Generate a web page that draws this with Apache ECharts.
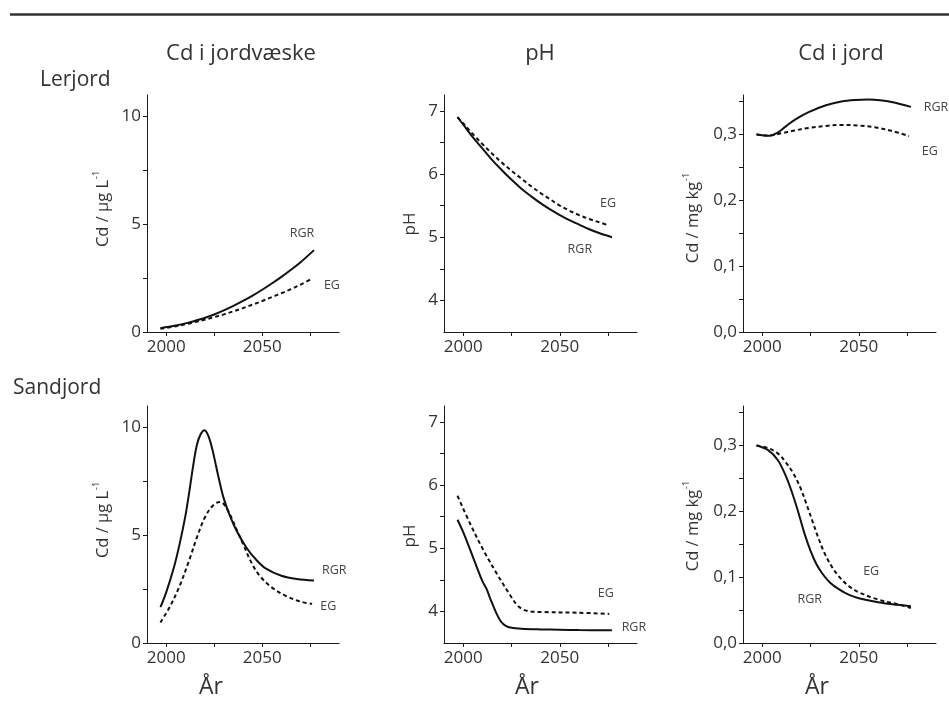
<!DOCTYPE html>
<html>
<head>
<meta charset="utf-8">
<script src="https://cdn.jsdelivr.net/npm/echarts@6/dist/echarts.min.js"></script>
<style>
html,body{margin:0;padding:0;background:#fff;}
#c{width:949px;height:702px;}
</style>
</head>
<body>
<div id="c"></div>
<script>
// ---------- DATA ----------
const columnTitles = ['Cd i jordvæske', 'pH', 'Cd i jord'];
const rowTitles = ['Lerjord', 'Sandjord'];
const xTickValues = [2000, 2025, 2050, 2075];
const xLabelValues = [2000, 2050];
const cdSolTicks = [0, 2.5, 5, 7.5, 10];
const cdSolLabels = [0, 5, 10];
const phTicks = [4, 4.5, 5, 5.5, 6, 6.5, 7];
const phLabels = [4, 5, 6, 7];
const cdSoilTicks = [0, 0.05, 0.1, 0.15, 0.2, 0.25, 0.3, 0.35];
const cdSoilLabels = [0, 0.1, 0.2, 0.3];

// Lerjord – Cd i jordvæske
const clayCdSolRGR_x = [1997,2005,2010,2015,2020,2025,2030,2035,2040,2045,2050,2055,2060,2065,2070,2077];
const clayCdSolRGR_y = [0.18,0.3,0.4,0.52,0.65,0.81,1.0,1.21,1.44,1.69,1.96,2.25,2.56,2.89,3.24,3.8];
const clayCdSolEG_x  = [1997,2005,2010,2015,2020,2025,2030,2035,2040,2045,2050,2055,2060,2065,2070,2076];
const clayCdSolEG_y  = [0.15,0.27,0.36,0.46,0.57,0.69,0.82,0.96,1.11,1.27,1.44,1.62,1.8,1.99,2.2,2.48];
// Lerjord – pH
const clayPhRGR_x = [1997,2000,2005,2010,2015,2020,2025,2030,2035,2040,2045,2050,2055,2060,2065,2070,2077];
const clayPhRGR_y = [6.9,6.78,6.58,6.4,6.22,6.06,5.91,5.77,5.65,5.54,5.44,5.35,5.27,5.2,5.13,5.07,5.0];
const clayPhEG_x  = [1997,2000,2005,2010,2015,2020,2025,2030,2035,2040,2045,2050,2055,2060,2065,2070,2075];
const clayPhEG_y  = [6.9,6.8,6.63,6.47,6.32,6.18,6.05,5.93,5.81,5.7,5.6,5.5,5.42,5.35,5.29,5.24,5.19];
// Lerjord – Cd i jord
const clayCdSoilRGR_x = [1997,2000,2004,2008,2012,2017,2024,2033,2041,2048,2055,2061,2067,2077];
const clayCdSoilRGR_y = [0.3,0.299,0.298,0.303,0.312,0.3227,0.334,0.3444,0.3502,0.3525,0.3532,0.3522,0.3495,0.342];
const clayCdSoilEG_x  = [1997,2001,2005,2010,2016,2024,2033,2041,2050,2059,2067,2076];
const clayCdSoilEG_y  = [0.3005,0.2985,0.299,0.302,0.3056,0.31,0.313,0.3146,0.3136,0.3106,0.3056,0.2975];
// Sandjord – Cd i jordvæske
const sandCdSolRGR_x = [1997,2000,2004,2007,2010,2012,2014,2016,2018,2020,2022,2024,2026,2028,2030,2033,2037,2042,2047,2052,2060,2068,2077];
const sandCdSolRGR_y = [1.66,2.35,3.5,4.6,5.9,7.0,8.2,9.2,9.7,9.88,9.6,9.0,8.2,7.4,6.7,5.95,5.15,4.4,3.85,3.45,3.12,2.97,2.9];
const sandCdSolEG_x  = [1997,2002,2007,2012,2016,2020,2024,2028,2030,2033,2037,2040,2044,2048,2054,2062,2070,2076];
const sandCdSolEG_y  = [0.95,1.7,2.65,3.85,4.9,5.8,6.35,6.55,6.45,6.0,5.2,4.6,3.8,3.2,2.65,2.2,1.92,1.82];
// Sandjord – pH
const sandPhRGR_x = [1997,2000,2003.5,2007,2010,2012,2014,2017,2019.5,2022,2025,2030,2040,2050,2060,2077];
const sandPhRGR_y = [5.45,5.25,4.98,4.7,4.47,4.36,4.2,3.98,3.84,3.77,3.74,3.725,3.715,3.71,3.705,3.7];
const sandPhEG_x  = [1997,2003.5,2010.4,2017.3,2024.2,2028.5,2032.9,2041.5,2058.8,2075.6];
const sandPhEG_y  = [5.83,5.39,4.97,4.6,4.26,4.08,4.01,3.99,3.98,3.96];
// Sandjord – Cd i jord
const sandCdSoilRGR_x = [1997,2003,2008,2012,2015,2018,2020,2022,2025,2028,2031,2035,2040,2045,2050,2060,2070,2077];
const sandCdSoilRGR_y = [0.3,0.293,0.278,0.255,0.232,0.205,0.185,0.165,0.14,0.12,0.106,0.092,0.081,0.073,0.068,0.062,0.058,0.056];
const sandCdSoilEG_x  = [1997,2003,2008,2012,2016,2020,2023,2026,2029,2032,2036,2040,2045,2050,2060,2070,2077];
const sandCdSoilEG_y  = [0.3,0.296,0.288,0.275,0.258,0.234,0.21,0.185,0.16,0.138,0.116,0.1,0.086,0.077,0.066,0.059,0.053];

// curve annotation anchors (data coordinates)
const annot = [
  {RGR:[2070.7,4.58], EG:[2086.3,2.18]},
  {RGR:[2060.4,4.80], EG:[2075,5.53]},
  {RGR:[2090,0.341], EG:[2086.8,0.275]},
  {RGR:[2087.5,3.35], EG:[2084.4,1.69]},
  {RGR:[2088.4,3.74], EG:[2073.8,4.29]},
  {RGR:[2024.6,0.066], EG:[2056.4,0.109]}
];

// ---------- CHART ----------
const FONT = '"Open Sans", "Noto Sans", sans-serif';
const TXT = '#333';
const AX = '#1a1a1a';

const grids = [
  {left:147, top:95, width:192, height:237},
  {left:444, top:95, width:193, height:237},
  {left:743, top:95, width:193, height:237},
  {left:147, top:406, width:192, height:237},
  {left:444, top:406, width:193, height:237},
  {left:743, top:406, width:193, height:237}
];

const yDefs = [
  {min:0, max:11, ticks:cdSolTicks, labels:cdSolLabels, fmt:v=>String(v)},
  {min:3.5, max:7.25, ticks:phTicks, labels:phLabels, fmt:v=>String(v)},
  {min:0, max:0.36, ticks:cdSoilTicks, labels:cdSoilLabels, fmt:v=>v.toFixed(1).replace('.', ',')}
];

const xAxes = grids.map((g,i)=>({
  type:'value', gridIndex:i, min:1990, max:2090,
  axisLine:{show:true, lineStyle:{color:AX, width:1}},
  axisTick:{show:true, inside:false, length:4, customValues:xTickValues, lineStyle:{color:AX}},
  axisLabel:{show:true, customValues:xLabelValues, margin:7, color:TXT, fontSize:17, fontFamily:FONT, formatter:v=>String(v)},
  splitLine:{show:false}
}));
const yAxes = grids.map((g,i)=>{
  const d = yDefs[i%3];
  return {
    type:'value', gridIndex:i, min:d.min, max:d.max,
    axisLine:{show:true, onZero:false, lineStyle:{color:AX, width:1}},
    axisTick:{show:true, inside:false, length:4, customValues:d.ticks, lineStyle:{color:AX}},
    axisLabel:{show:true, customValues:d.labels, margin:6, color:TXT, fontSize:17, fontFamily:FONT, formatter:d.fmt},
    splitLine:{show:false}
  };
});

const seriesSrc = [
  [clayCdSolRGR_x, clayCdSolRGR_y, clayCdSolEG_x, clayCdSolEG_y],
  [clayPhRGR_x, clayPhRGR_y, clayPhEG_x, clayPhEG_y],
  [clayCdSoilRGR_x, clayCdSoilRGR_y, clayCdSoilEG_x, clayCdSoilEG_y],
  [sandCdSolRGR_x, sandCdSolRGR_y, sandCdSolEG_x, sandCdSolEG_y],
  [sandPhRGR_x, sandPhRGR_y, sandPhEG_x, sandPhEG_y],
  [sandCdSoilRGR_x, sandCdSoilRGR_y, sandCdSoilEG_x, sandCdSoilEG_y]
];
const zip = (xs, ys) => xs.map((x,k)=>[x, ys[k]]);
function mp(name, coord){
  return {
    symbol:'circle', symbolSize:0, silent:true, animation:false,
    itemStyle:{color:'rgba(0,0,0,0)'},
    label:{show:true, position:'inside', formatter:name, color:'#444', fontSize:12.5, fontFamily:FONT},
    data:[{coord:coord}]
  };
}
const series = [];
seriesSrc.forEach((s,i)=>{
  series.push({
    type:'line', name:'RGR', xAxisIndex:i, yAxisIndex:i, data:zip(s[0], s[1]),
    smooth:0.35, showSymbol:false, symbol:'none', clip:false,
    lineStyle:{color:'#111', width:2, type:'solid'},
    markPoint: mp('RGR', annot[i].RGR)
  });
  series.push({
    type:'line', name:'EG', xAxisIndex:i, yAxisIndex:i, data:zip(s[2], s[3]),
    smooth:0.35, showSymbol:false, symbol:'none', clip:false,
    lineStyle:{color:'#111', width:2, type:[4,3]},
    markPoint: mp('EG', annot[i].EG)
  });
});

function txt(x, y, text, size, align, rot){
  return {type:'text', x:x, y:y, rotation:rot||0, silent:true,
    style:{text:text, fill:TXT, font:'normal ' + size + 'px ' + FONT, align:align||'center', verticalAlign:'middle'}};
}
function supName(x, y, main, sup){
  return {type:'text', x:x, y:y, rotation:Math.PI/2, silent:true,
    style:{text:'{a|' + main + '}{s|' + sup + '}', align:'center', verticalAlign:'middle',
      rich:{a:{fontSize:16.5, fontFamily:FONT, fill:TXT, lineHeight:20, verticalAlign:'bottom'},
            s:{fontSize:9, fontFamily:FONT, fill:TXT, lineHeight:20, verticalAlign:'top', padding:[0,0,0,1]}}}};
}

const graphic = [
  {type:'line', silent:true, shape:{x1:10, y1:14.5, x2:949, y2:14.5}, style:{stroke:'#333', lineWidth:2.6}},
  txt(241, 54, columnTitles[0], 22),
  txt(540, 54, columnTitles[1], 22),
  txt(841, 54, columnTitles[2], 22),
  txt(40, 80, rowTitles[0], 21, 'left'),
  txt(13, 388, rowTitles[1], 21, 'left'),
  txt(211, 687, 'År', 23),
  txt(527, 687, 'År', 23),
  txt(817, 687, 'År', 23),
  supName(102, 209, 'Cd / µg L', '-1'),
  supName(102, 520, 'Cd / µg L', '-1'),
  txt(410, 224, 'pH', 17, 'center', Math.PI/2),
  txt(410, 536, 'pH', 17, 'center', Math.PI/2),
  supName(692, 218, 'Cd / mg kg', '-1'),
  supName(692, 526, 'Cd / mg kg', '-1')
];

const chart = echarts.init(document.getElementById('c'), null, {renderer:'canvas', width:949, height:702});
chart.setOption({
  animation:false,
  backgroundColor:'#fff',
  grid:grids,
  xAxis:xAxes,
  yAxis:yAxes,
  series:series,
  graphic:graphic
});
</script>
</body>
</html>
